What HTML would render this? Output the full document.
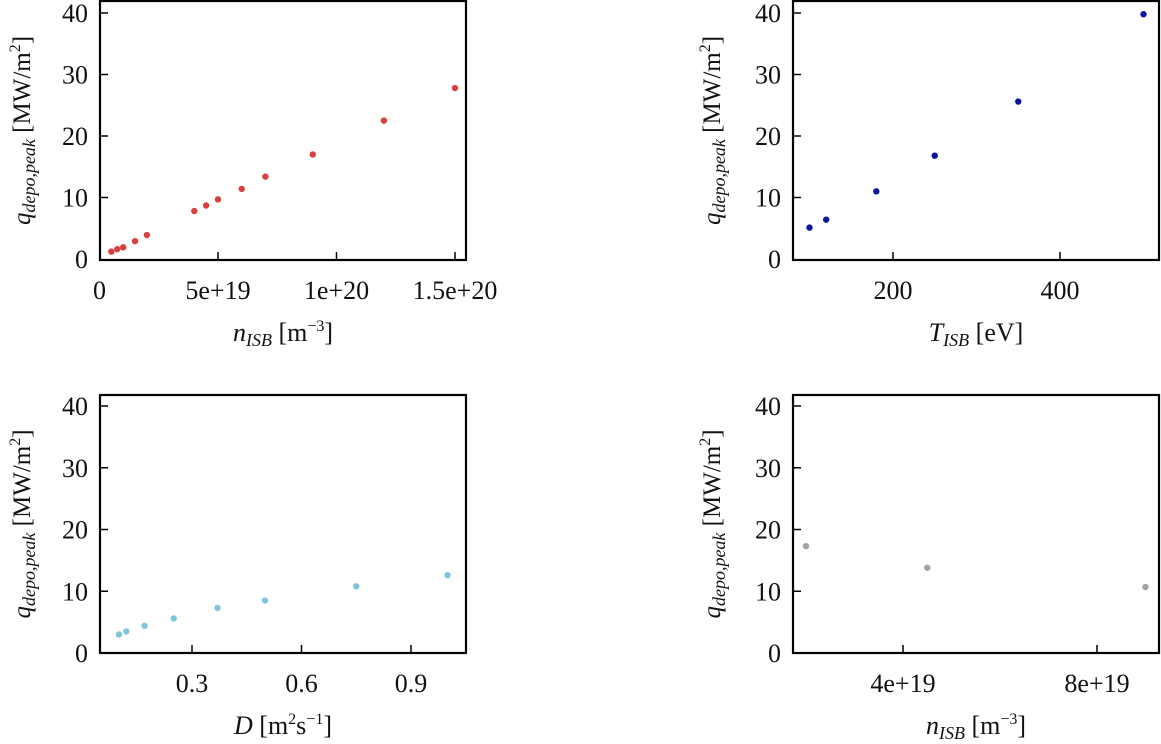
<!DOCTYPE html>
<html><head><meta charset="utf-8"><style>
html,body{margin:0;padding:0;background:#fff;width:1161px;height:744px;overflow:hidden}
svg{display:block}
text{font-family:"Liberation Serif",serif;fill:#111}
</style></head><body>
<svg id="c" width="1161" height="744"></svg>
<script>
// Panel A: density scan
const nIsbA = [0.5e19,0.75e19,1.0e19,1.5e19,2e19,4e19,4.5e19,5e19,6e19,7e19,9e19,12e19,15e19];
const qA = [1.2,1.6,1.9,2.9,3.9,7.8,8.7,9.7,11.4,13.4,17,22.5,27.8];
const ticksXA = [0,5e19,1e20,1.5e20];
const tickLabelsXA = ["0","5e+19","1e+20","1.5e+20"];
// Panel B: temperature scan
const tIsb = [100,120,180,250,350,500];
const qB = [5.1,6.4,11,16.8,25.6,39.8];
const ticksXB = [200,400];
const tickLabelsXB = ["200","400"];
// Panel C: diffusion scan
const dVals = [0.1,0.12,0.17,0.25,0.37,0.5,0.75,1.0];
const qC = [3.0,3.5,4.4,5.6,7.3,8.5,10.8,12.6];
const ticksXC = [0.3,0.6,0.9];
const tickLabelsXC = ["0.3","0.6","0.9"];
// Panel D: density scan 2
const nIsbD = [2e19,4.5e19,9e19];
const qD = [17.3,13.8,10.7];
const ticksXD = [4e19,8e19];
const tickLabelsXD = ["4e+19","8e+19"];
const ticksY = [0,10,20,30,40];
const tickLabelsY = ["0","10","20","30","40"];

const NS="http://www.w3.org/2000/svg";
const svg=document.getElementById('c');
function mk(tag,attrs,parent){const e=document.createElementNS(NS,tag);for(const k in attrs)e.setAttribute(k,attrs[k]);(parent||svg).appendChild(e);return e;}

function panel(o){
  const g=mk('g',{});
  
  
  const sx=v=>o.x0px+(v-o.xa)/(o.xb-o.xa)*(o.x1px-o.x0px);
  const sy=v=>o.y0px+(v)/40*(o.y40px-o.y0px);
  const fr=mk('rect',{x:o.L,y:o.T,width:o.R-o.L,height:o.B-o.T,fill:'none',stroke:'#000','stroke-width':2.2},g);
  
  
  ticksY.forEach((v,i)=>{
    const y=sy(v);
    if(v>0) mk('line',{x1:o.L,x2:o.L+8,y1:y,y2:y,stroke:'#000','stroke-width':1.5},g);
    const t=mk('text',{x:o.L-12,y:y+9,'text-anchor':'end','font-size':26},g);
    t.textContent=tickLabelsY[i];
    
    
  });
  o.tx.forEach((v,i)=>{
    const x=sx(v);
    if(v>o.xa) mk('line',{x1:x,x2:x,y1:o.B,y2:o.B-8,stroke:'#000','stroke-width':1.5},g);
    const t=mk('text',{x:x,y:o.B+39,'text-anchor':'middle','font-size':26},g);
    t.textContent=o.tl[i];
    
    
  });
  o.xs.forEach((v,i)=>{
    const c=mk('circle',{cx:sx(v),cy:sy(o.ys[i]),r:3.2,fill:o.color},g);
    
    
  });
  const yl=mk('text',{transform:`translate(${o.yLabX},${(o.T+o.B)/2}) rotate(-90)`,'text-anchor':'middle','font-size':25},g);
  yl.innerHTML='<tspan font-style="italic">q</tspan><tspan font-style="italic" font-size="18" dy="5">depo,peak</tspan><tspan dy="-5">  [MW/m</tspan><tspan font-size="16" dy="-10">2</tspan><tspan dy="10">]</tspan>';
  
  
  const xl=mk('text',{x:(o.L+o.R)/2,y:o.B+81,'text-anchor':'middle','font-size':26},g);
  xl.innerHTML=o.xlab;
  
  
}
const nLab='<tspan font-style="italic">n</tspan><tspan font-style="italic" font-size="18" dy="5">ISB</tspan><tspan dy="-5">  [m</tspan><tspan font-size="16" dy="-10">−3</tspan><tspan dy="10">]</tspan>';
panel({name:'panel-density',L:100,R:466,T:1,B:260,y0px:259,y40px:13,xa:0,xb:5e19,x0px:99.5,x1px:218,
  tx:ticksXA,tl:tickLabelsXA,xs:nIsbA,ys:qA,color:'#d7403e',yLabX:30,xlab:nLab});
panel({name:'panel-temperature',L:793,R:1159,T:1,B:260,y0px:259,y40px:13,xa:0,xb:200,x0px:726,x1px:893,
  tx:ticksXB,tl:tickLabelsXB,xs:tIsb,ys:qB,color:'#0c14a6',yLabX:720,
  xlab:'<tspan font-style="italic">T</tspan><tspan font-style="italic" font-size="18" dy="5">ISB</tspan><tspan dy="-5">  [eV]</tspan>'});
panel({name:'panel-diffusion',L:100,R:466,T:395,B:653,y0px:653,y40px:406,xa:0,xb:0.3,x0px:82.5,x1px:192,
  tx:ticksXC,tl:tickLabelsXC,xs:dVals,ys:qC,color:'#7ec6de',yLabX:30,
  xlab:'<tspan font-style="italic">D</tspan><tspan>  [m</tspan><tspan font-size="16" dy="-10">2</tspan><tspan dy="10">s</tspan><tspan font-size="16" dy="-10">−1</tspan><tspan dy="10">]</tspan>'});
panel({name:'panel-density-2',L:793,R:1159,T:395,B:653,y0px:653,y40px:406,xa:0,xb:4e19,x0px:709,x1px:903,
  tx:ticksXD,tl:tickLabelsXD,xs:nIsbD,ys:qD,color:'#a3a3a3',yLabX:720,xlab:nLab});
</script>
</body></html>
